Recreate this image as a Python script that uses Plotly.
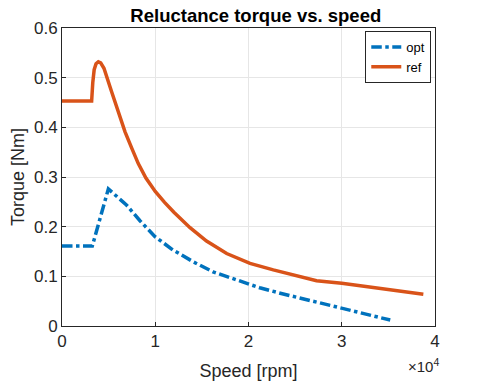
import plotly.graph_objects as go

# speed in rpm, torque in Nm
ref_speed = [0, 3180, 3300, 3450, 3650, 3900, 4150, 4500, 5330, 6760, 7500, 8180,
             9000, 10000, 11000, 12000, 13730, 15500, 17660, 20160, 22660, 25500,
             27300, 30000, 34100, 38750]
ref_torque = [0.453, 0.453, 0.490, 0.516, 0.528, 0.532, 0.530, 0.519, 0.471, 0.391,
              0.357, 0.327, 0.298, 0.271, 0.249, 0.229, 0.198, 0.171, 0.146, 0.126,
              0.113, 0.099, 0.091, 0.086, 0.076, 0.064]

opt_speed = [0, 3250, 4970, 6940, 8360, 9970, 11900, 14100, 16200, 18700, 21200,
             23400, 26900, 30000, 33000, 35200]
opt_torque = [0.161, 0.161, 0.276, 0.243, 0.212, 0.180, 0.153, 0.129, 0.109, 0.093,
              0.077, 0.066, 0.050, 0.034, 0.022, 0.012]

x_ticks = [0, 10000, 20000, 30000, 40000]
x_tick_labels = ['0', '1', '2', '3', '4']
y_ticks = [0, 0.1, 0.2, 0.3, 0.4, 0.5, 0.6]

fig = go.Figure()

fig.add_trace(go.Scatter(
    x=opt_speed, y=opt_torque, mode='lines', name='opt',
    line=dict(color='#0072BD', width=3.5, dash='dashdot'),
))
fig.add_trace(go.Scatter(
    x=ref_speed, y=ref_torque, mode='lines', name='ref',
    line=dict(color='#D95319', width=3.5),
))

axis_style = dict(
    showline=True, linecolor='#262626', linewidth=1, mirror=True,
    showgrid=True, gridcolor='#e6e6e6', zeroline=False,
    ticks='inside', ticklen=4, tickcolor='#262626',
    tickfont=dict(size=17, color='#262626'), automargin=False,
)

# page has an 8px body margin, so the figure is a bit smaller than the window
fig.update_layout(
    width=472, height=373,
    margin=dict(l=54, r=45, t=20, b=55),
    paper_bgcolor='white', plot_bgcolor='white',
    font=dict(family='Liberation Sans, Arial, sans-serif', color='#262626'),
    title=dict(text='<b>Reluctance torque vs. speed</b>', x=0.525, xanchor='center',
               y=0.997, yanchor='top', font=dict(size=18.5, color='black')),
    xaxis=dict(range=[0, 40000], tickvals=x_ticks, ticktext=x_tick_labels,
               title=dict(text='Speed [rpm]', font=dict(size=18)),
               **axis_style),
    yaxis=dict(range=[0, 0.6], tickvals=y_ticks,
               title=dict(text='Torque [Nm]', font=dict(size=18)),
               **axis_style),
    legend=dict(x=0.99, y=0.99, xanchor='right', yanchor='top',
                bgcolor='white', bordercolor='#262626', borderwidth=1,
                font=dict(size=13, color='black'), tracegroupgap=0,
                itemwidth=30),
    showlegend=True,
    annotations=[dict(text='×10<sup>4</sup>', x=1.015, xref='paper', xanchor='right',
                      y=-0.095, yref='paper', yanchor='top', showarrow=False,
                      font=dict(size=15, color='#262626'))],
)

fig.write_html("out.html")
